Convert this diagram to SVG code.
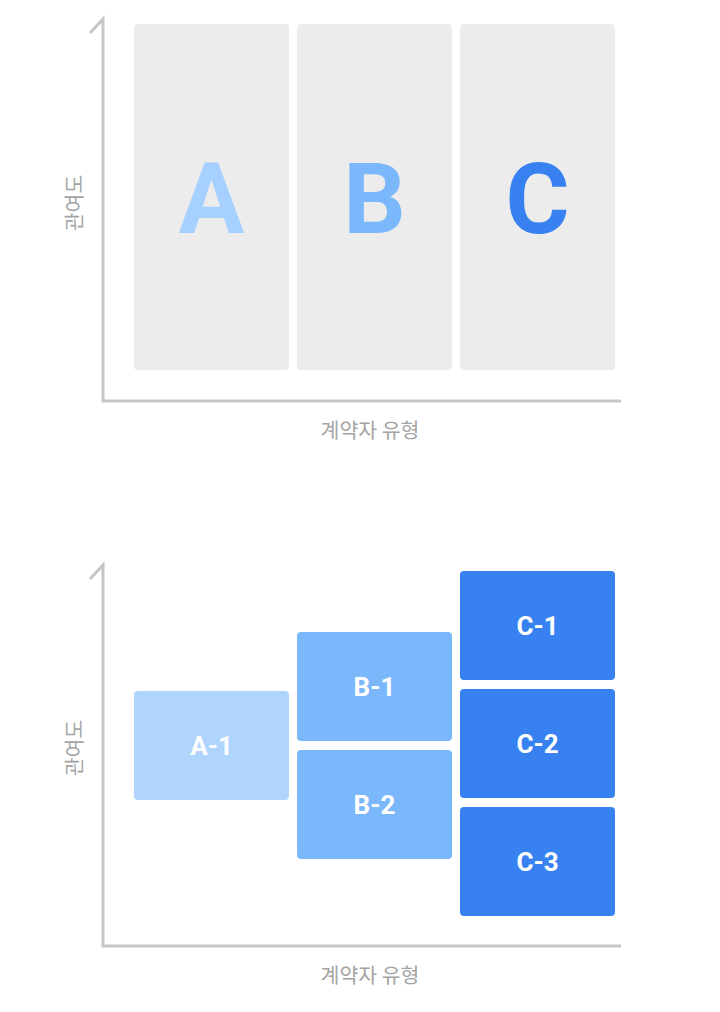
<svg xmlns="http://www.w3.org/2000/svg" width="720" height="1012" viewBox="0 0 720 1012">
<style>
.axis{fill:none;stroke:#c6c6c6;stroke-width:3}
.lbl{font-family:"Noto Sans CJK KR","Noto Sans",sans-serif;font-size:20.5px;fill:#a4a4a4;text-anchor:middle}
.panel{fill:#ececec}
.big{font-family:Roboto,"Liberation Sans",sans-serif;font-weight:bold;font-size:98px;text-anchor:middle}
.box text{font-family:Roboto,"Liberation Sans",sans-serif;font-weight:bold;font-size:26px;fill:#fff;text-anchor:middle}
</style>
<rect width="720" height="1012" fill="#fff"/>
<g id="chart1">
<g id="axes1">
<path class="axis" d="M90,33 L103,19 L103,401 L621,401"/>
<text class="lbl" x="370" y="438">계약자 유형</text>
<text class="lbl" transform="translate(82,203) rotate(-90)">관여도</text>
</g>
<g id="panelA"><rect class="panel" x="134" y="24" width="155" height="346" rx="4"/><text class="big" x="211.5" y="233" fill="#a5d0ff">A</text></g>
<g id="panelB"><rect class="panel" x="297" y="24" width="155" height="346" rx="4"/><text class="big" x="374.5" y="233" fill="#7ab8fb">B</text></g>
<g id="panelC"><rect class="panel" x="460" y="24" width="155" height="346" rx="4"/><text class="big" x="537.5" y="233" fill="#3782f0">C</text></g>
</g>
<g id="chart2">
<g id="axes2">
<path class="axis" d="M90,579 L103,565 L103,946 L621,946"/>
<text class="lbl" x="370" y="983">계약자 유형</text>
<text class="lbl" transform="translate(82,748) rotate(-90)">관여도</text>
</g>
<g id="A-1" class="box"><rect x="134" y="691" width="155" height="109" rx="4" fill="#b0d5fd"/><text x="211.5" y="755">A-1</text></g>
<g id="B-1" class="box"><rect x="297" y="632" width="155" height="109" rx="4" fill="#7ab8fb"/><text x="374.5" y="696">B-1</text></g>
<g id="B-2" class="box"><rect x="297" y="750" width="155" height="109" rx="4" fill="#7ab8fb"/><text x="374.5" y="814">B-2</text></g>
<g id="C-1" class="box"><rect x="460" y="571" width="155" height="109" rx="4" fill="#3782f0"/><text x="537.5" y="635">C-1</text></g>
<g id="C-2" class="box"><rect x="460" y="689" width="155" height="109" rx="4" fill="#3782f0"/><text x="537.5" y="753">C-2</text></g>
<g id="C-3" class="box"><rect x="460" y="807" width="155" height="109" rx="4" fill="#3782f0"/><text x="537.5" y="871">C-3</text></g>
</g>
<g id="connectors"/>
</svg>
